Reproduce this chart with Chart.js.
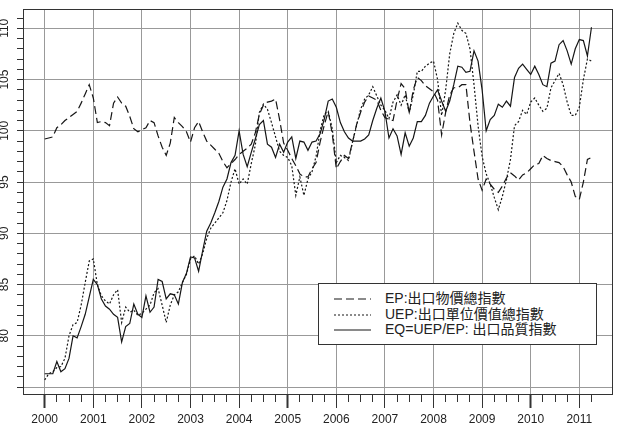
<!DOCTYPE html>
<html><head><meta charset="utf-8">
<script src="https://cdn.jsdelivr.net/npm/chart.js@4.4.1/dist/chart.umd.min.js"></script>
<style>
html,body{margin:0;padding:0;background:#fff;}
#wrap{position:relative;width:619px;height:430px;}
canvas{display:block;}
#legend{position:absolute;left:318px;top:283px;width:279px;height:62px;border:1px solid #333;background:#fff;box-sizing:border-box;font-family:"Liberation Sans","Noto Sans CJK TC",sans-serif;font-size:14px;color:#222;}
.row{position:absolute;left:0;height:16px;line-height:16px;white-space:nowrap;}
.row svg{position:absolute;left:15px;top:8px;}
.row span{position:absolute;left:66px;top:0;}
</style></head>
<body><div id="wrap"><canvas id="c" width="619" height="430"></canvas><div id="legend"></div></div>
<script>
// ---- data (monthly, Jan 2000 .. Apr 2011) ----
const startYear = 2000;
const epValues = [
 99.2, 99.3, 99.4, 100.3, 100.6, 101.0, 101.3, 101.6, 101.9, 102.7, 103.6, 104.5,
 103.2, 100.8, 100.9, 100.8, 100.5, 102.7, 103.3, 102.7, 102.4, 101.4, 100.2, 99.9,
 100.1, 100.3, 101.0, 100.8, 99.5, 98.4, 97.6, 98.8, 101.3, 100.8, 100.4, 99.9,
 98.9, 100.3, 100.9, 99.9, 99.0, 98.6, 98.2, 97.8, 97.0, 96.4, 96.8, 97.2,
 97.7, 98.0, 98.3, 98.7, 99.8, 101.6, 102.5, 102.8, 102.9, 103.1, 101.1, 98.8,
 98.1, 97.3, 96.6, 95.8, 95.5, 95.5, 96.3, 96.9, 98.9, 100.5, 101.9, 99.7,
 96.3, 97.0, 97.6, 97.3, 98.9, 100.6, 101.8, 102.8, 103.4, 103.2, 103.0, 102.0,
 101.3, 101.1, 101.0, 103.0, 104.6, 104.1, 101.7, 104.0, 105.2, 104.9, 104.4, 104.1,
 103.8, 103.0, 99.6, 101.8, 103.5, 104.2, 104.2, 104.5, 104.5, 100.8, 98.0, 95.3,
 94.2, 95.3, 94.8, 94.3, 94.0, 94.6, 95.4, 95.9, 95.6, 95.2, 95.7, 95.9,
 96.3, 96.7, 96.8, 97.6, 97.3, 97.1, 97.0, 96.9, 96.5, 95.7, 95.0, 93.6,
 93.3, 95.0, 97.2, 97.4
];
const uepValues = [
 75.7, 76.3, 76.5, 76.9, 77.0, 77.8, 80.0, 81.1, 81.3, 83.0, 85.2, 87.3,
 87.5, 85.0, 83.9, 83.4, 83.1, 84.0, 84.5, 81.3, 82.8, 82.3, 82.5, 82.0,
 82.2, 82.6, 83.0, 84.2, 84.6, 83.0, 81.3, 83.0, 84.0, 84.3, 85.2, 86.0,
 87.5, 87.8, 87.0, 88.0, 89.5, 90.5, 91.0, 91.5, 92.0, 93.2, 95.0, 96.3,
 94.8, 95.3, 94.8, 96.8, 98.6, 101.8, 102.6, 102.1, 100.8, 99.4, 98.0, 97.6,
 97.4, 96.6, 93.7, 95.5, 93.7, 95.3, 96.0, 97.5, 100.0, 101.6, 101.9, 100.2,
 96.9, 97.6, 97.4, 97.1, 98.9, 100.5, 102.1, 103.1, 103.5, 104.3, 103.4, 102.5,
 102.0, 101.2, 102.8, 103.5, 102.5, 103.5, 101.8, 103.5, 105.8, 105.8, 106.3, 106.6,
 106.8, 105.0, 101.5, 104.0, 107.5, 109.5, 110.5, 109.8, 109.5, 108.0, 104.5, 100.5,
 97.5, 95.8, 94.8, 93.5, 92.3, 93.6, 95.2, 97.2, 100.5, 100.9, 102.0, 101.6,
 102.8, 103.2, 102.5, 101.9, 102.2, 104.2, 104.9, 105.6, 104.5, 102.8, 101.5, 101.5,
 102.3, 105.0, 107.0, 106.8
];
const eqValues = [
 76.3, 76.3, 76.3, 77.5, 76.5, 76.8, 77.8, 80.0, 79.8, 80.9, 82.1, 83.8,
 85.5, 85.0, 83.6, 82.9, 82.6, 82.1, 81.8, 79.4, 80.9, 81.2, 83.1, 82.1,
 81.8, 83.9, 82.3, 82.8, 85.5, 85.3, 83.6, 84.1, 84.0, 83.1, 85.2, 86.1,
 87.7, 87.6, 86.3, 88.3, 90.2, 91.0, 92.0, 93.1, 94.5, 95.3, 96.9, 97.6,
 100.0, 97.7, 96.5, 97.9, 99.2, 100.6, 101.0, 98.7, 98.4, 97.4, 98.7, 97.9,
 98.9, 99.4, 97.3, 99.0, 98.9, 98.1, 98.9, 99.0, 99.7, 101.1, 102.9, 103.1,
 102.3, 100.8, 99.9, 99.3, 99.0, 99.0, 99.0, 99.2, 99.6, 101.0, 102.2, 103.2,
 101.9, 99.3, 100.2, 99.5, 97.7, 99.8, 98.5, 99.3, 100.9, 100.9, 101.5, 102.7,
 103.4, 104.0, 102.9, 101.9, 102.9, 104.5, 106.3, 106.2, 105.7, 105.8, 107.8, 106.8,
 104.0, 100.0, 101.1, 101.5, 102.6, 102.3, 102.9, 102.4, 105.2, 106.1, 106.5, 106.0,
 105.5, 106.3, 105.5, 104.5, 104.3, 106.6, 106.8, 108.4, 108.8, 107.8, 106.5, 108.0,
 108.9, 108.8, 107.3, 110.1
];
const seriesNames = ['EP:出口物價總指數', 'UEP:出口單位價值總指數', 'EQ=UEP/EP: 出口品質指數'];
const xTickLabels = [2000, 2001, 2002, 2003, 2004, 2005, 2006, 2007, 2008, 2009, 2010, 2011];
const yTickLabels = [80, 85, 90, 95, 100, 105, 110];

// ---- styles ----
const seriesValues = [epValues, uepValues, eqValues];
const dashes = [[8, 4], [2, 2], []];
const lineColor = '#161616';

const toPoints = vals => vals.map((v, i) => ({x: startYear + i / 12, y: v}));

Chart.defaults.font.family = '"Liberation Sans", Arial, sans-serif';
Chart.defaults.font.size = 12;

const frame = {
  id: 'frame',
  afterDraw(chart) {
    const {ctx, chartArea: a} = chart;
    ctx.save();
    ctx.strokeStyle = '#333';
    ctx.lineWidth = 1;
    ctx.setLineDash([]);
    ctx.strokeRect(Math.round(a.left) + 0.5, Math.round(a.top) + 0.5,
      Math.round(a.right - a.left) - 1, Math.round(a.bottom - a.top) - 1);
    ctx.restore();
  }
};

new Chart(document.getElementById('c'), {
  type: 'line',
  data: {
    datasets: seriesNames.map((n, k) => ({
      label: n,
      data: toPoints(seriesValues[k]),
      borderColor: lineColor,
      borderWidth: 1.2,
      borderDash: dashes[k],
      pointRadius: 0,
      tension: 0,
      fill: false
    }))
  },
  options: {
    responsive: false,
    animation: false,
    devicePixelRatio: 1,
    layout: {padding: {top: 5, right: 6, left: 0, bottom: 0}},
    plugins: {legend: {display: false}, tooltip: {enabled: false}},
    scales: {
      x: {
        type: 'linear', min: 1999.5535, max: 2011.693,
        afterFit(s) { s.height = 35; },
        afterBuildTicks(s) { s.ticks = s.ticks.filter(t => t.value >= 2000 - 1e-9 && t.value <= 2011.25 + 1e-9); },
        ticks: {
          stepSize: 0.25, autoSkip: false, includeBounds: false,
          maxRotation: 0, minRotation: 0, padding: 4, color: '#222',
          callback: v => xTickLabels.includes(v) ? String(v) : ''
        },
        grid: {
          color: c => (c.tick && xTickLabels.includes(c.tick.value)) ? '#999' : 'rgba(0,0,0,0)',
          lineWidth: 1,
          tickLength: 13,
          tickColor: '#333',
          tickWidth: c => (c.tick && c.tick.value % 5 === 0) ? 2 : 1,
          tickBorderDash: c => (c.tick && Number.isInteger(c.tick.value)) ? [] : [7, 40]
        },
        border: {display: false}
      },
      y: {
        type: 'linear', min: 74.228, max: 111.862,
        afterFit(s) { s.width = 23; },
        ticks: {
          stepSize: 1, autoSkip: false, includeBounds: false,
          minRotation: 90, maxRotation: 90, crossAlign: 'center', padding: 2, color: '#222',
          callback: v => yTickLabels.includes(v) ? String(v) : ''
        },
        grid: {
          color: c => (c.tick && c.tick.value % 5 === 0) ? '#999' : 'rgba(0,0,0,0)',
          lineWidth: 1,
          tickLength: 6,
          tickColor: '#333'
        },
        border: {display: false}
      }
    }
  },
  plugins: [frame]
});

// ---- legend (HTML text) ----
const lg = document.getElementById('legend');
const rowTops = [6, 22, 37];
seriesNames.forEach((n, k) => {
  const row = document.createElement('div');
  row.className = 'row';
  row.style.top = rowTops[k] + 'px';
  const da = dashes[k].length ? dashes[k].join(',') : 'none';
  row.innerHTML = '<svg width="38" height="2"><line x1="0" y1="1" x2="37" y2="1" stroke="' + lineColor +
    '" stroke-width="1.2" stroke-dasharray="' + da + '"/></svg><span></span>';
  row.querySelector('span').textContent = n;
  lg.appendChild(row);
});
</script></body></html>
